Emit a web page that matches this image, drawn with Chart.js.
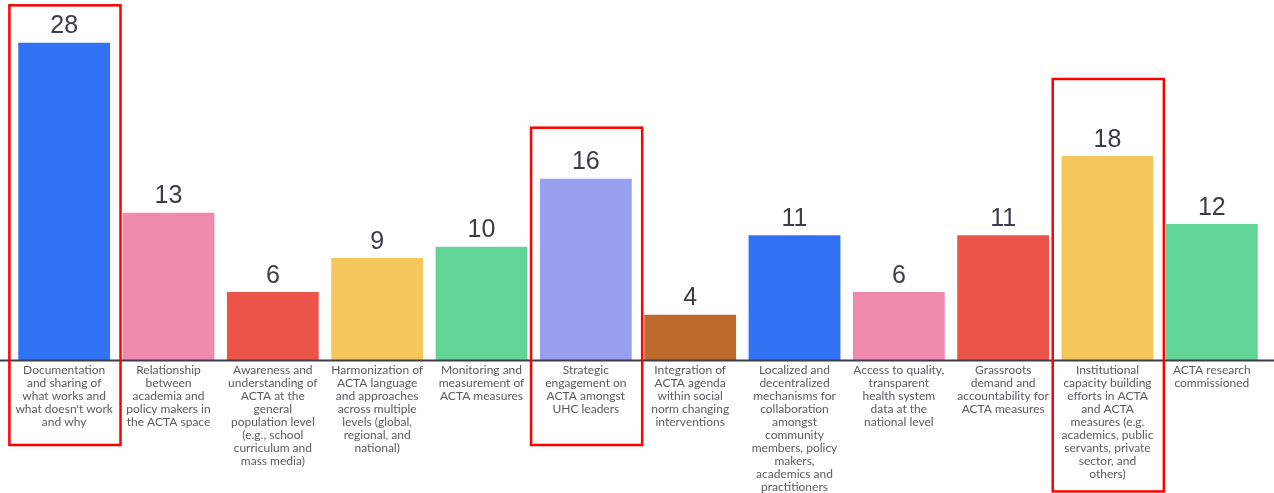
<!DOCTYPE html>
<html>
<head>
<meta charset="utf-8">
<script src="https://cdn.jsdelivr.net/npm/chart.js@4.4.1/dist/chart.umd.min.js"></script>
<style>
  html, body { margin: 0; padding: 0; background: #ffffff; }
  canvas { display: block; }
</style>
</head>
<body>
<canvas id="c" width="1274" height="493"></canvas>
<script>
const categories = [
  ["Documentation","and sharing of","what works and","what doesn't work","and why"],
  ["Relationship","between","academia and","policy makers in","the ACTA space"],
  ["Awareness and","understanding of","ACTA at the","general","population level","(e.g., school","curriculum and","mass media)"],
  ["Harmonization of","ACTA language","and approaches","across multiple","levels (global,","regional, and","national)"],
  ["Monitoring and","measurement of","ACTA measures"],
  ["Strategic","engagement on","ACTA amongst","UHC leaders"],
  ["Integration of","ACTA agenda","within social","norm changing","interventions"],
  ["Localized and","decentralized","mechanisms for","collaboration","amongst","community","members, policy","makers,","academics and","practitioners"],
  ["Access to quality,","transparent","health system","data at the","national level"],
  ["Grassroots","demand and","accountability for","ACTA measures"],
  ["Institutional","capacity building","efforts in ACTA","and ACTA","measures (e.g.","academics, public","servants, private","sector, and","others)"],
  ["ACTA research","commissioned"]
];
const values = [28, 13, 6, 9, 10, 16, 4, 11, 6, 11, 18, 12];
const barColors = ["#3172F5","#EF8AAC","#EA5449","#F5C65B","#62D596","#979FEE","#BE6A2D","#3172F5","#EF8AAC","#EA5449","#F5C65B","#62D596"];
// highlighted categories (red boxes): index, top value, bottom value (below axis)
const highlightIndex = [0, 5, 10];
const highlightTop = [31.3, 20.5, 24.8];
const highlightBottom = [-7.5, -7.5, -11.6];

const overlay = {
  id: 'overlay',
  afterDatasetsDraw(chart) {
    const ctx = chart.ctx;
    const meta = chart.getDatasetMeta(0);
    const ys = chart.scales.y;
    const xs = chart.scales.x;
    ctx.save();
    // baseline
    ctx.strokeStyle = '#3b3f47';
    ctx.lineWidth = 2;
    ctx.beginPath();
    ctx.moveTo(0, chart.chartArea.bottom + 0.5);
    ctx.lineTo(chart.width, chart.chartArea.bottom + 0.5);
    ctx.stroke();
    // value labels
    ctx.fillStyle = '#3a3d45';
    ctx.font = '25px "Liberation Sans", Arial, sans-serif';
    ctx.textAlign = 'center';
    ctx.textBaseline = 'alphabetic';
    meta.data.forEach((bar, i) => {
      ctx.fillText(String(values[i]), bar.x, bar.y - 9.5);
    });
    // highlight boxes
    const cw = (xs.right - xs.left) / categories.length;
    ctx.strokeStyle = '#FF0000';
    ctx.lineWidth = 2.5;
    highlightIndex.forEach((idx, k) => {
      const cx = xs.getPixelForValue(idx);
      const x0 = cx - 0.525 * cw;
      const x1 = cx + 0.54 * cw;
      const y0 = ys.getPixelForValue(highlightTop[k]);
      const y1 = ys.getPixelForValue(highlightBottom[k]);
      ctx.strokeRect(x0, y0, x1 - x0, y1 - y0);
    });
    ctx.restore();
  }
};

new Chart(document.getElementById('c'), {
  type: 'bar',
  data: {
    labels: categories,
    datasets: [{
      data: values,
      backgroundColor: barColors,
      borderWidth: 0,
      barPercentage: 0.88,
      categoryPercentage: 1.0
    }]
  },
  options: {
    responsive: false,
    animation: false,
    layout: { padding: { left: 12, right: 10, top: 0, bottom: 0 } },
    plugins: { legend: { display: false }, tooltip: { enabled: false } },
    scales: {
      x: {
        grid: { display: false, drawTicks: false },
        border: { display: false },
        afterFit(scale) { scale.height = 133; },
        ticks: {
          autoSkip: false,
          maxRotation: 0,
          minRotation: 0,
          padding: 4,
          color: '#5b5b5f',
          font: { family: 'Lato, "Noto Sans", sans-serif', size: 12, lineHeight: 13/12 }
        }
      },
      y: {
        display: false,
        min: 0,
        max: 31.77
      }
    }
  },
  plugins: [overlay]
});
</script>
</body>
</html>
